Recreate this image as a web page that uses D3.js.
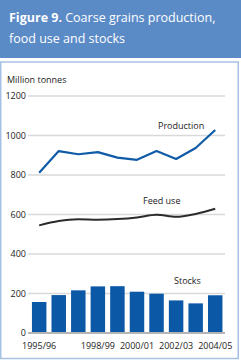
<!DOCTYPE html>
<html>
<head>
<meta charset="utf-8">
<script src="https://cdn.jsdelivr.net/npm/d3@7"></script>
<style>
  body { margin: 0; background: #fff; }
  svg { display: block; font-family: "Open Sans", "Noto Sans", sans-serif; }
</style>
</head>
<body>
<div id="chart"></div>
<script>
// #Data
const seasons = ['1995/96', '1996/97', '1997/98', '1998/99', '1999/00', '2000/01', '2001/02', '2002/03', '2003/04', '2004/05'];
const production = [811, 921, 905, 916, 888, 877, 921, 881, 937, 1028];
const feedUse = [545, 567, 576, 574, 577, 585, 599, 588, 603, 629];
const stocks = [157, 192, 216, 236, 237, 209, 199, 165, 150, 191];
const yTicks = [0, 200, 400, 600, 800, 1000, 1200];
const xTickLabels = ['1995/96', '1998/99', '2000/01', '2002/03', '2004/05'];

const w = 241;
const h = 360;
const fs = 9;

const svg = d3.select('#chart')
              .append('svg')
              .attr('width', w)
              .attr('height', h);

// #Header band
svg.append('rect')
   .attr('x', 0).attr('y', 0)
   .attr('width', w).attr('height', 58)
   .attr('fill', '#5b8bc7');

const title = svg.append('text')
                 .attr('x', 9)
                 .attr('y', 22)
                 .attr('fill', '#fff')
                 .attr('font-size', 12.5);
title.append('tspan').attr('font-weight', 'bold').text('Figure 9.');
title.append('tspan').text(' Coarse grains production,');
svg.append('text')
   .attr('x', 9).attr('y', 43)
   .attr('fill', '#fff')
   .attr('font-size', 12.5)
   .text('food use and stocks');

// #Frame
svg.append('rect')
   .attr('x', 0.75).attr('y', 62)
   .attr('width', 237.5).attr('height', 296.5)
   .attr('fill', 'none')
   .attr('stroke', '#a6c1e4')
   .attr('stroke-width', 1.5);

// #Scales
const xScale = d3.scaleBand()
                 .domain(seasons)
                 .range([29.4, 225])
                 .paddingInner(0.26)
                 .paddingOuter(0.13);
const yScale = d3.scaleLinear()
                 .domain([0, 1200])
                 .range([333, 96]);

// #Grid lines and y labels
svg.append('g')
   .selectAll('line')
   .data(yTicks.filter(d => d > 0))
   .enter()
   .append('line')
   .attr('x1', 28).attr('x2', 225)
   .attr('y1', d => yScale(d)).attr('y2', d => yScale(d))
   .attr('stroke', '#d9d9d9')
   .attr('stroke-width', 1.5);

svg.append('g')
   .selectAll('text')
   .data(yTicks)
   .enter()
   .append('text')
   .attr('x', 26)
   .attr('y', d => yScale(d) + 3)
   .attr('text-anchor', 'end')
   .attr('font-size', fs)
   .attr('fill', '#222')
   .text(d => d);

svg.append('text')
   .attr('x', 7).attr('y', 83)
   .attr('font-size', fs)
   .attr('fill', '#222')
   .text('Million tonnes');

// #Bars: stocks
svg.append('g')
   .selectAll('rect')
   .data(seasons)
   .enter()
   .append('rect')
   .attr('x', d => xScale(d))
   .attr('y', (d, i) => yScale(stocks[i]))
   .attr('width', xScale.bandwidth())
   .attr('height', (d, i) => yScale(0) - yScale(stocks[i]))
   .attr('fill', '#0b58a6');

// #Baseline
svg.append('line')
   .attr('x1', 28).attr('x2', 225)
   .attr('y1', yScale(0)).attr('y2', yScale(0))
   .attr('stroke', '#b5b5b5')
   .attr('stroke-width', 2);

// #Lines
const cx = d => xScale(d) + xScale.bandwidth() / 2;

const prodLine = d3.line()
                   .x((d, i) => cx(seasons[i]))
                   .y(d => yScale(d));
svg.append('path')
   .datum(production)
   .attr('d', prodLine)
   .attr('fill', 'none')
   .attr('stroke', '#0f5ba8')
   .attr('stroke-width', 2.2)
   .attr('stroke-linejoin', 'round');

const feedLine = d3.line()
                   .x((d, i) => cx(seasons[i]))
                   .y(d => yScale(d))
                   .curve(d3.curveMonotoneX);
svg.append('path')
   .datum(feedUse)
   .attr('d', feedLine)
   .attr('fill', 'none')
   .attr('stroke', '#2b2b2b')
   .attr('stroke-width', 2);

// #Series labels
const seriesLabels = [['Production', 158, 129], ['Feed use', 143, 204], ['Stocks', 174, 284]];
svg.append('g')
   .selectAll('text')
   .data(seriesLabels)
   .enter()
   .append('text')
   .attr('x', d => d[1])
   .attr('y', d => d[2])
   .attr('font-size', fs)
   .attr('fill', '#222')
   .text(d => d[0]);

// #X labels
svg.append('g')
   .selectAll('text')
   .data(xTickLabels)
   .enter()
   .append('text')
   .attr('x', d => cx(d))
   .attr('y', 348.5)
   .attr('text-anchor', 'middle')
   .attr('font-size', fs)
   .attr('fill', '#222')
   .text(d => d);
</script>
</body>
</html>
